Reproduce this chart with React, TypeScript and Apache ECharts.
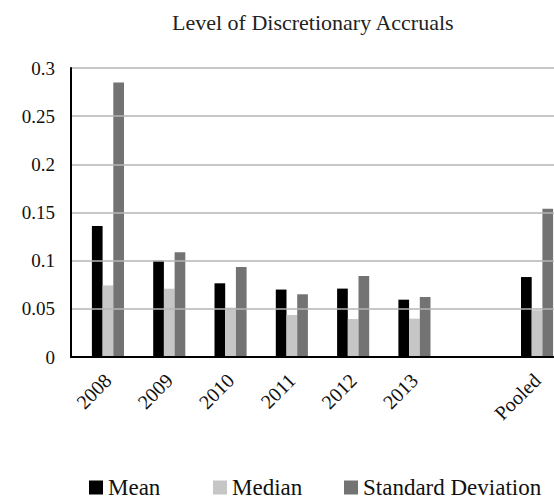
import React, { useEffect, useRef } from "react";
import * as echarts from "echarts";

const categories = ["2008", "2009", "2010", "2011", "2012", "2013", "", "Pooled"];
const meanValues = [0.136, 0.1, 0.0765, 0.07, 0.071, 0.0595, null, 0.083];
const medianValues = [0.0743, 0.0709, 0.0512, 0.0436, 0.0394, 0.0398, null, 0.0485];
const sdValues = [0.285, 0.1087, 0.0934, 0.0651, 0.0841, 0.0623, null, 0.154];
const yTicks = [0, 0.05, 0.1, 0.15, 0.2, 0.25, 0.3];
const seriesNames = ["Mean", "Median", "Standard Deviation"];

const FONT = "'Liberation Serif', serif";

export default function App() {
  const ref = useRef<HTMLDivElement>(null);
  useEffect(() => {
    if (!ref.current) return;
    const chart = echarts.init(ref.current, null, { renderer: "svg" });
    const legendLefts = [89, 213, 344];
    chart.setOption({
      animation: false,
      backgroundColor: "#ffffff",
      textStyle: { fontFamily: FONT },
      title: {
        text: "Level of Discretionary Accruals",
        left: 167,
        top: 6,
        textStyle: { fontFamily: FONT, fontSize: 22, fontWeight: "normal", color: "#222" },
      },
      legend: seriesNames.map((n, i) => ({
        data: [n],
        left: legendLefts[i],
        top: 476,
        padding: 0,
        itemWidth: 14,
        itemHeight: 14,
        itemGap: 5,
        icon: "rect",
        textStyle: { fontFamily: FONT, fontSize: 23, lineHeight: 18, color: "#111" },
      })),
      grid: [
        { left: 71, top: 68, height: 289, right: 0 },
        { left: 77.3, top: 68, height: 289, width: 61.3 * categories.length },
      ],
      xAxis: [
        {
          gridIndex: 0,
          type: "category",
          data: categories,
          z: 5,
          axisLine: { lineStyle: { color: "#000", width: 2 } },
          axisTick: { show: false },
          axisLabel: { show: false },
        },
        {
          gridIndex: 1,
          type: "category",
          data: categories,
          axisLine: { show: false },
          axisTick: { show: false },
          axisLabel: {
            rotate: 45,
            margin: 20,
            interval: 0,
            fontFamily: FONT,
            fontSize: 20,
            color: "#111",
          },
        },
      ],
      yAxis: [
        {
          gridIndex: 0,
          type: "value",
          min: 0,
          max: 0.3,
          interval: 0.05,
          z: 5,
          axisLine: { show: true, lineStyle: { color: "#000", width: 2 } },
          axisTick: { show: false },
          splitLine: { lineStyle: { color: "#b4b4b4", width: 1.5 } },
          axisLabel: {
            margin: 16,
            fontFamily: FONT,
            fontSize: 19,
            color: "#111",
            rich: { s: { fontFamily: FONT, fontSize: 19, color: "#111" } },
            formatter: (v: number) => {
              const t = yTicks.find((x) => Math.abs(x - v) < 1e-9);
              return t === undefined ? "" : "{s|" + String(t) + "}";
            },
          },
        },
        {
          gridIndex: 1,
          type: "value",
          min: 0,
          max: 0.3,
          show: false,
        },
      ],
      series: [
        { name: "Mean", data: meanValues, color: "#000000" },
        { name: "Median", data: medianValues, color: "#c6c6c6" },
        { name: "Standard Deviation", data: sdValues, color: "#737373" },
      ].map((s) => ({
        name: s.name,
        type: "bar",
        data: s.data,
        xAxisIndex: 1,
        yAxisIndex: 1,
        barWidth: 10.7,
        barGap: "0%",
        itemStyle: { color: s.color },
      })),
    });
    return () => chart.dispose();
  }, []);
  return (
    <div style={{ position: "fixed", left: 0, top: 0, width: 554, height: 499, overflow: "hidden" }}>
      <div ref={ref} style={{ width: 580, height: 499 }} />
    </div>
  );
}
